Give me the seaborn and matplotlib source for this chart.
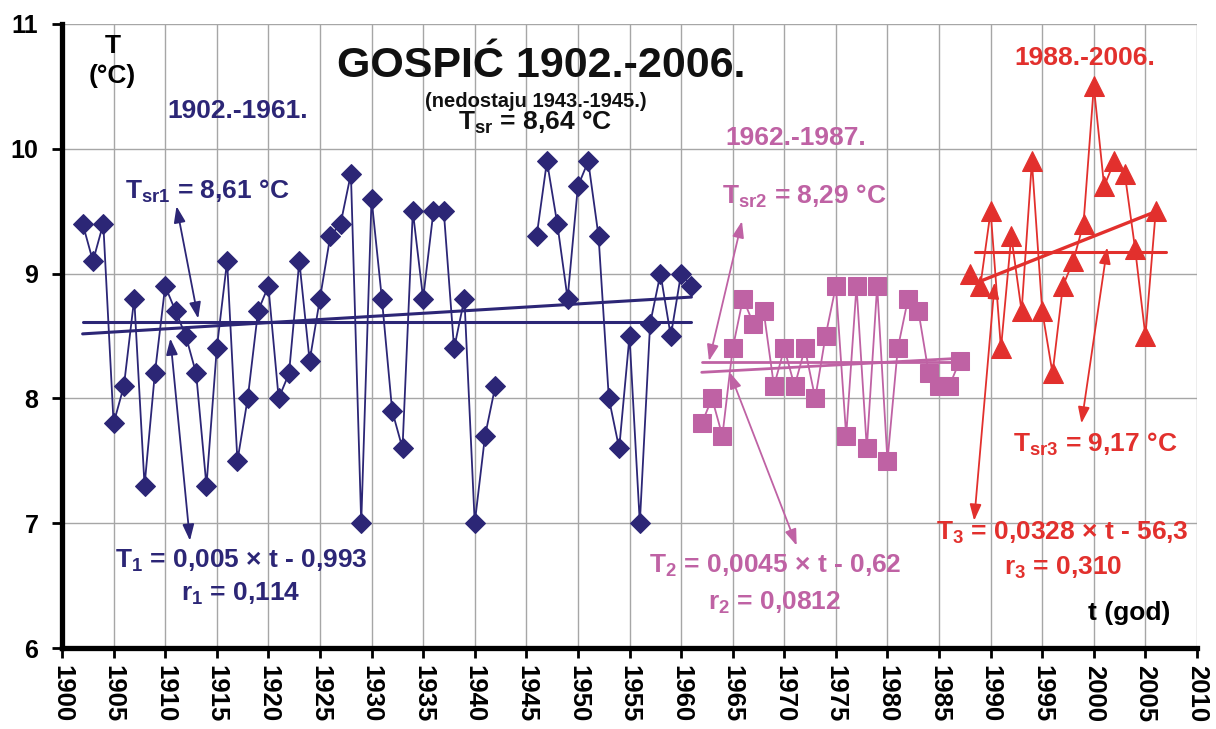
import numpy as np
import pandas as pd
import matplotlib
matplotlib.use("Agg")
import matplotlib.pyplot as plt
import seaborn as sns

# Mean annual air temperature at Gospić (°C); the years 1943-1945 are missing
years_1 = list(range(1902, 1943)) + list(range(1946, 1962))
temps_1 = [9.4, 9.1, 9.4, 7.8, 8.1, 8.8, 7.3, 8.2, 8.9, 8.7,
           8.5, 8.2, 7.3, 8.4, 9.1, 7.5, 8.0, 8.7, 8.9, 8.0,
           8.2, 9.1, 8.3, 8.8, 9.3, 9.4, 9.8, 7.0, 9.6, 8.8,
           7.9, 7.6, 9.5, 8.8, 9.5, 9.5, 8.4, 8.8, 7.0, 7.7,
           8.1,
           9.3, 9.9, 9.4, 8.8, 9.7, 9.9, 9.3, 8.0, 7.6, 8.5,
           7.0, 8.6, 9.0, 8.5, 9.0, 8.9]

years_2 = list(range(1962, 1988))
temps_2 = [7.8, 8.0, 7.7, 8.4, 8.8, 8.6, 8.7, 8.1, 8.4, 8.1,
           8.4, 8.0, 8.5, 8.9, 7.7, 8.9, 7.6, 8.9, 7.5, 8.4,
           8.8, 8.7, 8.2, 8.1, 8.1, 8.3]

years_3 = list(range(1988, 2007))
temps_3 = [9.0, 8.9, 9.5, 8.4, 9.3, 8.7, 9.9, 8.7, 8.2, 8.9,
           9.1, 9.4, 10.5, 9.7, 9.9, 9.8, 9.2, 8.5, 9.5]

# Period means (°C) and linear trends T = a*t + b
mean_all = 8.64
mean_1, mean_2, mean_3 = 8.61, 8.29, 9.17
trend_1 = (0.005, -0.993)
trend_2 = (0.0045, -0.62)
trend_3 = (0.0328, -56.3)
r_1, r_2, r_3 = "0,114", "0,0812", "0,310"

# Year spans covered by the mean and trend lines
mean_span_1, trend_span_1 = [1902, 1961], [1902, 1961]
mean_span_2, trend_span_2 = [1962, 1987], [1962, 1987]
mean_span_3, trend_span_3 = [1988.5, 2007], [1989, 2006]

x_ticks = list(range(1900, 2011, 5))
y_ticks = [6, 7, 8, 9, 10, 11]

BLUE = "#2C2676"
PURPLE = "#BF62A4"
RED = "#E2302D"


def comma(v):
    return f"{v:.2f}".replace(".", ",")


sns.set_theme(style="whitegrid")
plt.rcParams["font.family"] = ["Liberation Sans", "DejaVu Sans"]
plt.rcParams["mathtext.fontset"] = "custom"
plt.rcParams["mathtext.rm"] = "Liberation Sans:bold"
plt.rcParams["mathtext.bf"] = "Liberation Sans:bold"
plt.rcParams["mathtext.it"] = "Liberation Sans:bold"

fig = plt.figure(figsize=(12.16, 7.29), dpi=100)
fig.patch.set_facecolor("white")
ax = fig.add_axes([62 / 1216, 81 / 729, (1197 - 62) / 1216, (705 - 81) / 729])
ax.set_facecolor("white")

# ---- series ----
df1 = pd.DataFrame({"year": years_1, "T": temps_1})
df1["segment"] = np.where(df1["year"] < 1943, 0, 1)
sns.lineplot(data=df1, x="year", y="T", units="segment", estimator=None,
             color=BLUE, lw=1.3, marker="D", markersize=10,
             markeredgecolor=BLUE, markerfacecolor=BLUE, ax=ax, zorder=4)

df2 = pd.DataFrame({"year": years_2, "T": temps_2})
sns.lineplot(data=df2, x="year", y="T", color=PURPLE, lw=1.3, marker="s",
             markersize=13, markeredgecolor=PURPLE, markerfacecolor=PURPLE,
             ax=ax, zorder=4)

df3 = pd.DataFrame({"year": years_3, "T": temps_3})
sns.lineplot(data=df3, x="year", y="T", color=RED, lw=1.3, marker="^",
             markersize=14, markeredgecolor=RED, markerfacecolor=RED,
             ax=ax, zorder=4)


def flat_line(span, value, color, lw):
    d = pd.DataFrame({"year": span, "T": [value, value]})
    sns.lineplot(data=d, x="year", y="T", color=color, lw=lw, ax=ax, zorder=5)


def trend_line(span, coef, color, lw):
    a, b = coef
    d = pd.DataFrame({"year": span, "T": [a * t + b for t in span]})
    sns.lineplot(data=d, x="year", y="T", color=color, lw=lw, ax=ax, zorder=5)


flat_line(mean_span_1, mean_1, BLUE, 2.2)
trend_line(trend_span_1, trend_1, BLUE, 2.2)
flat_line(mean_span_2, mean_2, PURPLE, 2.0)
trend_line(trend_span_2, trend_2, PURPLE, 2.0)
flat_line(mean_span_3, mean_3, RED, 2.2)
trend_line(trend_span_3, trend_3, RED, 2.4)

# ---- axes ----
ax.set_xlim(1900, 2010)
ax.set_ylim(6, 11)
ax.set_xticks(x_ticks)
ax.set_yticks(y_ticks)
ax.set_xticklabels([str(v) for v in x_ticks], rotation=-90, fontsize=18.5,
                   fontweight="bold")
ax.set_yticklabels([str(v) for v in y_ticks], fontsize=18, fontweight="bold")
ax.set_xlabel("")
ax.set_ylabel("")
ax.grid(True, color="#a6a6a6", lw=1.0, zorder=0)
ax.set_axisbelow(True)
for side in ["top", "right"]:
    ax.spines[side].set_visible(False)
for side in ["left", "bottom"]:
    ax.spines[side].set_color("black")
    ax.spines[side].set_linewidth(3.8)
ax.tick_params(axis="both", which="major", direction="out", length=7, width=2,
               color="black", labelcolor="black", left=True, bottom=True)
ax.tick_params(axis="y", pad=10)
ax.tick_params(axis="x", pad=5)

# ---- texts ----
txt = dict(ha="center", va="center", fontweight="bold", fontsize=19)
ax.text(1904.9, 10.82, "T", color="black", **txt)
ax.text(1904.9, 10.58, "(°C)", color="black", **txt)
ax.text(1946.4, 10.66, "GOSPIĆ 1902.-2006.", ha="center", va="center",
        fontweight="bold", fontsize=31, color="#111111")
ax.text(1945.9, 10.38, "(nedostaju 1943.-1945.)", ha="center", va="center",
        fontweight="bold", fontsize=14.5, color="#111111")
ax.text(1945.8, 10.21, r"T$_{\mathbf{sr}}$ = " + comma(mean_all) + " °C",
        color="#111111", **txt)

ax.text(1917.0, 10.30, "1902.-1961.", color=BLUE, **txt)
ax.text(1914.1, 9.66, r"T$_{\mathbf{sr1}}$ = " + comma(mean_1) + " °C",
        color=BLUE, **txt)
ax.text(1917.4, 6.70, r"T$_{\mathbf{1}}$ = 0,005 × t - 0,993", color=BLUE, **txt)
ax.text(1917.3, 6.43, r"r$_{\mathbf{1}}$ = " + r_1, color=BLUE, **txt)

ax.text(1971.1, 10.09, "1962.-1987.", color=PURPLE, **txt)
ax.text(1971.9, 9.62, r"T$_{\mathbf{sr2}}$ = " + comma(mean_2) + " °C",
        color=PURPLE, **txt)
ax.text(1969.1, 6.66, r"T$_{\mathbf{2}}$ = 0,0045 × t - 0,62", color=PURPLE, **txt)
ax.text(1969.1, 6.36, r"r$_{\mathbf{2}}$ = " + r_2, color=PURPLE, **txt)

ax.text(1999.1, 10.73, "1988.-2006.", color=RED, **txt)
ax.text(2000.1, 7.63, r"T$_{\mathbf{sr3}}$ = " + comma(mean_3) + " °C",
        color=RED, **txt)
ax.text(1997.0, 6.92, r"T$_{\mathbf{3}}$ = 0,0328 × t - 56,3", color=RED, **txt)
ax.text(1997.0, 6.64, r"r$_{\mathbf{3}}$ = " + r_3, color=RED, **txt)
ax.text(2003.4, 6.28, "t (god)", color="black", **txt)


# ---- arrows linking labels to lines ----
def link(p_from, p_to, color):
    ax.annotate("", xy=p_to, xytext=p_from,
                arrowprops=dict(arrowstyle="<|-|>,head_length=0.7,head_width=0.25",
                                color=color, lw=1.3, shrinkA=0, shrinkB=0,
                                mutation_scale=14),
                zorder=6)


link((1911.1, 9.54), (1913.2, 8.64), BLUE)
link((1910.5, 8.48), (1912.4, 6.86), BLUE)
link((1965.9, 9.42), (1962.7, 8.30), PURPLE)
link((1964.7, 8.21), (1971.2, 6.82), PURPLE)
link((2001.3, 9.21), (1998.8, 7.80), RED)
link((1990.4, 8.93), (1988.4, 7.02), RED)

fig.savefig("out.png", dpi=100, facecolor="white")
